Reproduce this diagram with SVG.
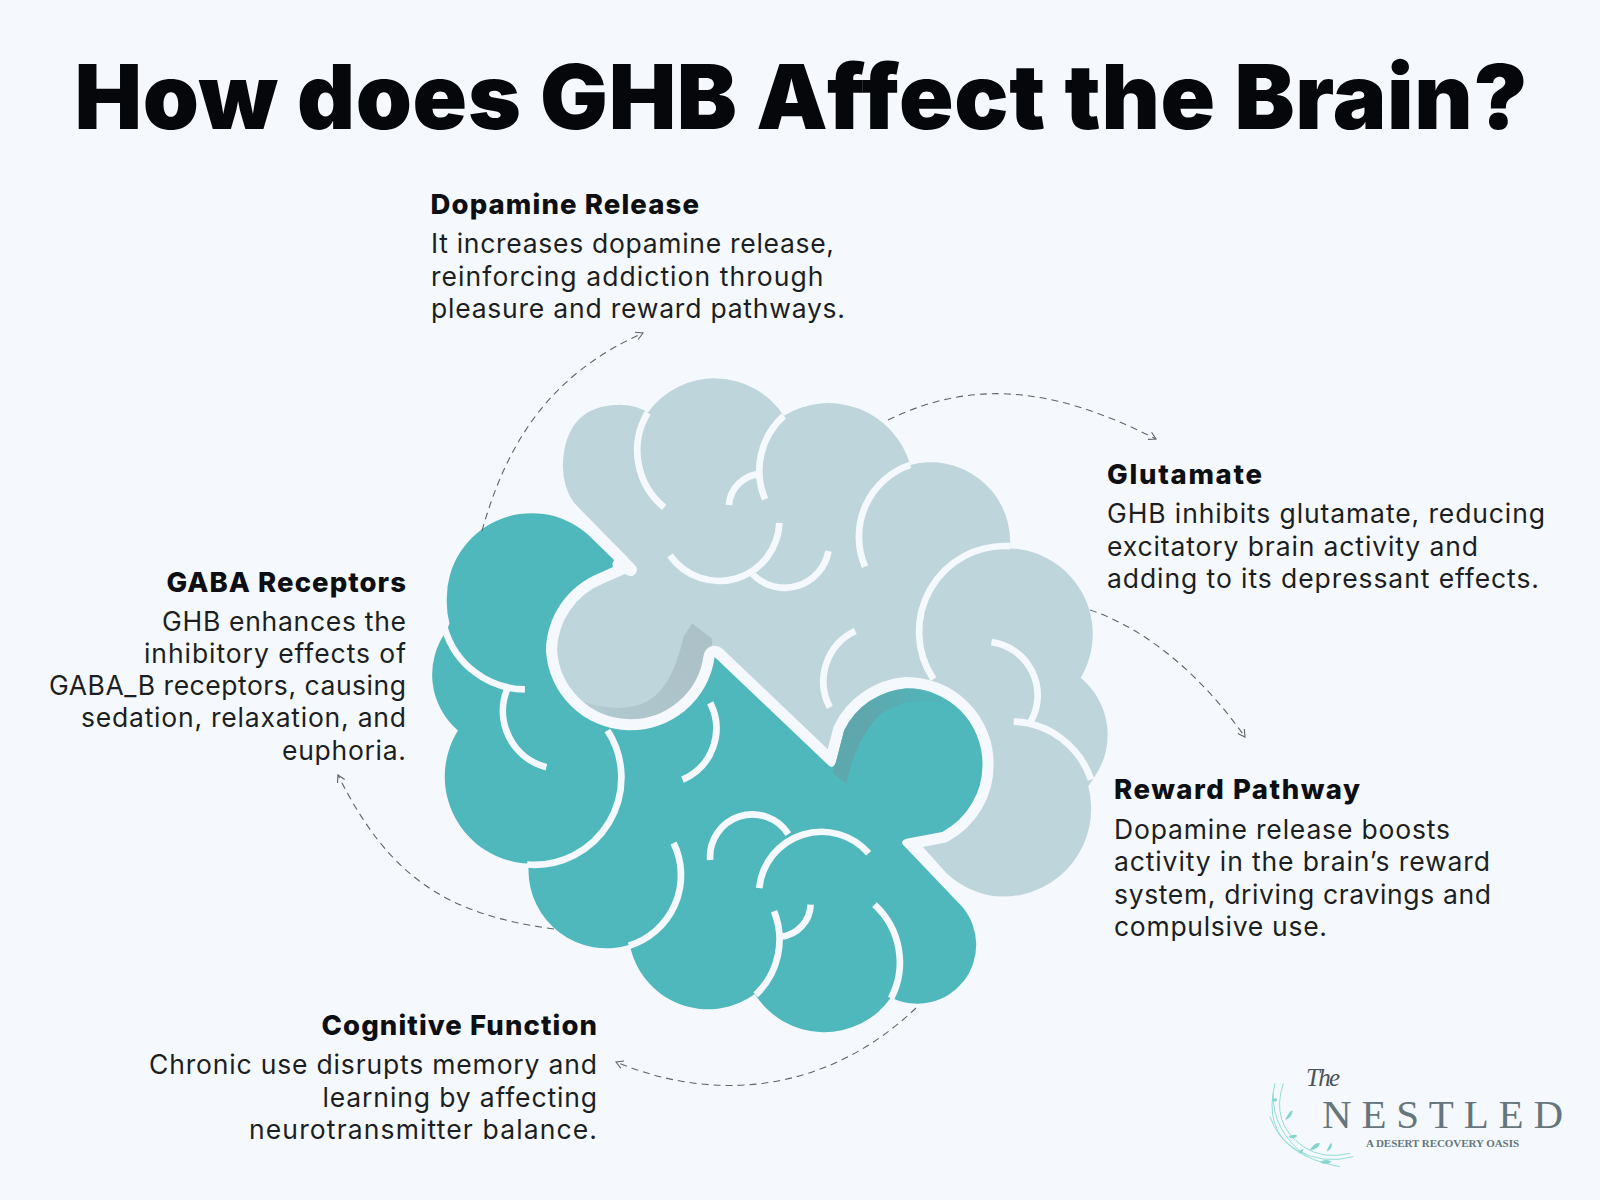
<svg xmlns="http://www.w3.org/2000/svg" xmlns:xlink="http://www.w3.org/1999/xlink" width="1600" height="1200" viewBox="0 0 1600 1200">
<style>
text{font-family:"Inter","Liberation Sans",sans-serif;fill:#16181a}
.title{font-size:90px;font-weight:900;fill:#05070a}
.h{font-size:27.5px;font-weight:800;fill:#0d0f12}
.b{font-size:26.5px;font-weight:400;fill:#1c1e22}
.d{fill:none;stroke:#5f6468;stroke-width:1.1;stroke-dasharray:7 5}
.w{fill:none;stroke:#f5f9fd;stroke-width:15;stroke-linecap:butt}
.logo{font-family:"Liberation Serif",serif;fill:#67757c}
.twig{fill:none;stroke:#93dcd5;stroke-width:3}
.leaf{fill:#84d6cf}
</style>
<defs>
<marker id="arr" viewBox="0 0 10 10" refX="9" refY="5" markerWidth="10" markerHeight="10" orient="auto" markerUnits="userSpaceOnUse"><path d="M2,1 L9,5 L2,9" fill="none" stroke="#5f6468" stroke-width="1.1"/></marker>
<path id="tealShape" d="M445,458 L375,390 A190,190 0 0 0 60,535 A190,190 0 0 0 66,590 L60,606 A165,165 0 0 0 85,830 A195,195 0 0 0 243,1128 L243,1140 A175,175 0 0 0 470,1310 A178,178 0 0 0 750,1420 A183,183 0 0 0 1055,1428 A132,132 0 0 0 1215,1225 L1088,1092 Q1070,1078 1092,1072 L1170,1057 A170,170 0 0 0 1260,905 A170,170 0 0 0 1090,735 A170,170 0 0 0 950,830 L932,900 Q925,920 912,905 L660,665 A190,190 0 0 1 282,650 A190,190 0 0 1 400,478 Z"/>
<clipPath id="tealClip"><use xlink:href="#tealShape"/></clipPath>
<linearGradient id="shTeal" gradientUnits="userSpaceOnUse" x1="930" y1="950" x2="1180" y2="740"><stop offset="0" stop-color="#5fa6ac" stop-opacity=".85"/><stop offset=".45" stop-color="#5fa6ac"/><stop offset="1" stop-color="#5fa6ac" stop-opacity="0"/></linearGradient>
<linearGradient id="shLight" gradientUnits="userSpaceOnUse" x1="640" y1="600" x2="330" y2="770"><stop offset="0" stop-color="#abc1c7"/><stop offset=".7" stop-color="#afc6cc"/><stop offset="1" stop-color="#b6ced4"/></linearGradient>
</defs>
<rect id="background" width="1600" height="1200" fill="#f5f9fd"/>
<text class="title" x="74.5" y="129" textLength="1453" lengthAdjust="spacing">How does GHB Affect the Brain?</text>

<g id="brain" transform="translate(420 360) scale(0.44643)">
<g id="brain-light">
<path fill="#bed6db" d="M345,320 Q320,285 320,235 Q325,100 450,100 Q490,102 510,118 A185,185 0 0 1 815,125 A190,190 0 0 1 1098,235 A178,178 0 0 1 1322,405 L1322,422 A192,192 0 0 1 1480,712 A165,165 0 0 1 1510,935 L1497,955 A197,197 0 0 1 1305,1202 Q1235,1200 1180,1150 L1130,1095 L1100,1060 L1050,1000 L1000,950 L700,760 L600,775 A180,180 0 0 1 290,650 A180,180 0 0 1 400,480 L480,458 Z"/>
<path fill="url(#shLight)" d="M335,755 Q420,790 480,775 Q560,760 590,620 L610,590 L655,625 L640,780 L470,840 Z"/>
<path class="w" d="M510,118 A165,165 0 0 0 547,330"/>
<path class="w" d="M815,125 A165,165 0 0 0 773,312"/>
<path class="w" d="M692,325 A75,75 0 0 1 765,255"/>
<path class="w" d="M805,365 A135,135 0 0 1 560,438"/>
<path class="w" d="M745,480 A100,100 0 0 0 915,428"/>
<path class="w" d="M1098,235 A170,170 0 0 0 997,463"/>
<path class="w" d="M1322,417 A192,192 0 0 0 1150,715"/>
<path class="w" d="M1280,632 A120,120 0 0 1 1368,810"/>
<path class="w" d="M1330,810 A190,190 0 0 1 1503,940"/>
<path class="w" d="M975,607 A125,125 0 0 0 918,778"/>
</g>
<g id="brain-teal">
<use xlink:href="#tealShape" fill="#4fb8bc" stroke="#f5f9fd" stroke-width="50" stroke-linejoin="round" paint-order="stroke"/>
<path d="M445,458 L472,470" stroke="#f5f9fd" stroke-width="28" stroke-linecap="round" fill="none"/>
<path clip-path="url(#tealClip)" fill="url(#shTeal)" d="M925,925 L955,950 Q975,850 1030,795 Q1090,750 1180,770 L1100,720 L950,790 Z"/>
<path class="w" d="M55,600 A190,190 0 0 0 235,738"/>
<path class="w" d="M195,738 A130,130 0 0 0 283,912"/>
<path class="w" d="M650,768 A125,125 0 0 1 588,940"/>
<path class="w" d="M420,830 A195,195 0 0 1 240,1130"/>
<path class="w" d="M568,1082 A165,165 0 0 1 468,1312"/>
<path class="w" d="M650,1120 A95,95 0 0 1 825,1062"/>
<path class="w" d="M760,1183 A140,140 0 0 1 1005,1105"/>
<path class="w" d="M793,1235 A170,170 0 0 1 752,1422"/>
<path class="w" d="M808,1292 A75,75 0 0 0 875,1220"/>
<path class="w" d="M1018,1220 A175,175 0 0 1 1055,1430"/>
</g>
</g>

<g id="connectors">
<path class="d" marker-end="url(#arr)" d="M482,531 C510,430 560,370 643,333"/>
<path class="d" marker-end="url(#arr)" d="M888,420 C970,380 1050,385 1156,439"/>
<path class="d" marker-end="url(#arr)" d="M1090,610 C1150,630 1205,680 1245,737"/>
<path class="d" marker-end="url(#arr)" d="M916,1008 C830,1090 720,1105 616,1062"/>
<path class="d" marker-end="url(#arr)" d="M554,929 C450,915 390,880 338,775"/>
</g>

<g id="node-dopamine">
<text class="h" x="430.5" y="214" textLength="268.5" lengthAdjust="spacing">Dopamine Release</text>
<text class="b" x="431" y="253" textLength="403" lengthAdjust="spacing">It increases dopamine release,</text>
<text class="b" x="431" y="286" textLength="392.5" lengthAdjust="spacing">reinforcing addiction through</text>
<text class="b" x="431" y="318" textLength="414" lengthAdjust="spacing">pleasure and reward pathways.</text>
</g>
<g id="node-glutamate">
<text class="h" x="1107" y="484" textLength="155" lengthAdjust="spacing">Glutamate</text>
<text class="b" x="1107" y="523" textLength="438" lengthAdjust="spacing">GHB inhibits glutamate, reducing</text>
<text class="b" x="1107" y="556" textLength="371" lengthAdjust="spacing">excitatory brain activity and</text>
<text class="b" x="1107" y="588" textLength="432" lengthAdjust="spacing">adding to its depressant effects.</text>
</g>
<g id="node-gaba">
<text class="h" x="166.5" y="592" textLength="239.5" lengthAdjust="spacing">GABA Receptors</text>
<text class="b" x="162" y="631" textLength="244" lengthAdjust="spacing">GHB enhances the</text>
<text class="b" x="144" y="663" textLength="262" lengthAdjust="spacing">inhibitory effects of</text>
<text class="b" x="49" y="695" textLength="357" lengthAdjust="spacing">GABA_B receptors, causing</text>
<text class="b" x="81" y="727" textLength="325" lengthAdjust="spacing">sedation, relaxation, and</text>
<text class="b" x="282" y="760" textLength="124" lengthAdjust="spacing">euphoria.</text>
</g>
<g id="node-reward">
<text class="h" x="1114" y="799" textLength="246" lengthAdjust="spacing">Reward Pathway</text>
<text class="b" x="1114" y="839" textLength="336" lengthAdjust="spacing">Dopamine release boosts</text>
<text class="b" x="1114" y="871" textLength="376" lengthAdjust="spacing">activity in the brain’s reward</text>
<text class="b" x="1114" y="904" textLength="377" lengthAdjust="spacing">system, driving cravings and</text>
<text class="b" x="1114" y="936" textLength="213" lengthAdjust="spacing">compulsive use.</text>
</g>
<g id="node-cognitive">
<text class="h" x="321.5" y="1035" textLength="275.5" lengthAdjust="spacing">Cognitive Function</text>
<text class="b" x="149" y="1074" textLength="448" lengthAdjust="spacing">Chronic use disrupts memory and</text>
<text class="b" x="322.5" y="1107" textLength="274.5" lengthAdjust="spacing">learning by affecting</text>
<text class="b" x="249" y="1139" textLength="348" lengthAdjust="spacing">neurotransmitter balance.</text>
</g>

<g id="logo">
<g transform="translate(1240 1050) scale(0.3333)">
<path class="twig" d="M105,100 Q70,240 170,300 Q250,345 340,320"/>
<path class="twig" d="M130,100 Q90,220 190,290 Q250,330 330,310"/>
<path class="twig" d="M90,200 Q130,320 300,350"/>
<path class="twig" d="M100,130 Q95,240 200,320"/>
<path class="leaf" d="M135,210 Q150,180 158,182 Q155,205 135,210Z"/>
<path class="leaf" d="M145,260 Q165,250 172,258 Q160,270 145,260Z"/>
<path class="leaf" d="M210,300 Q225,275 240,280 Q235,300 210,300Z"/>
<path class="leaf" d="M260,305 Q265,285 275,278 Q280,295 260,305Z"/>
<path class="leaf" d="M175,310 Q185,295 190,298 Q190,310 175,310Z"/>
<path class="leaf" d="M95,150 Q110,140 112,150 Q105,160 95,150Z"/>
<path class="leaf" d="M240,335 Q260,325 275,335 Q255,348 240,335Z"/>
</g>
<text class="logo" x="1322" y="1128" font-size="41" textLength="241" lengthAdjust="spacing">NESTLED</text>
<text class="logo" x="1366" y="1147" font-size="11" font-weight="700" textLength="153" lengthAdjust="spacing">A DESERT RECOVERY OASIS</text>
<text class="logo" x="1306" y="1086" font-size="25" font-style="italic" style="fill:#4a5358" textLength="34" lengthAdjust="spacing">The</text>
</g>
</svg>
